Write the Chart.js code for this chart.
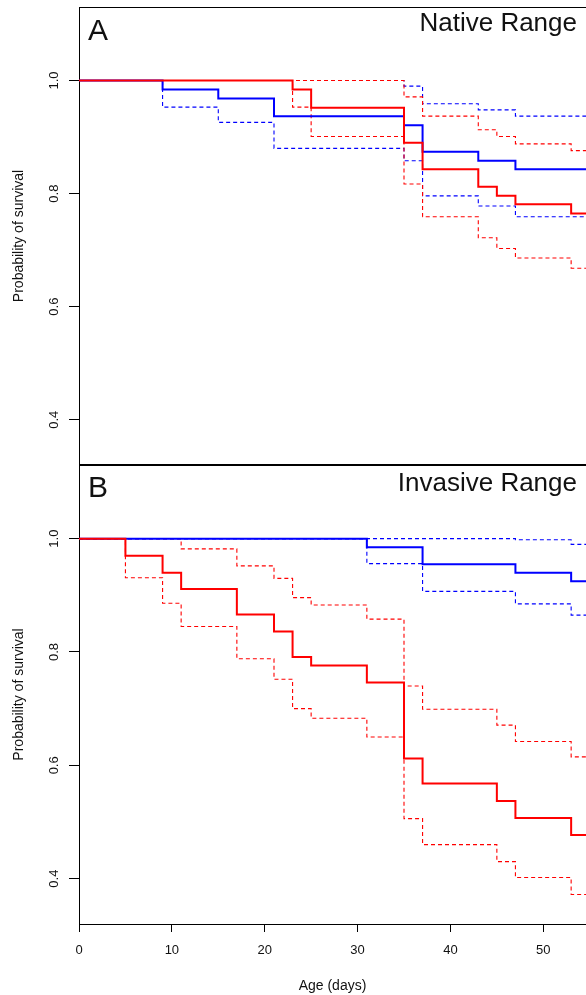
<!DOCTYPE html>
<html>
<head>
<meta charset="utf-8">
<script src="https://cdn.jsdelivr.net/npm/chart.js@4.4.1/dist/chart.umd.min.js"></script>
<style>
  body { margin: 0; background: #fff; }
  #wrap { position: relative; width: 586px; height: 995px; overflow: hidden; }
  canvas { position: absolute; left: 0; }
  #native { top: 0; }
  #invasive { top: 460px; }
</style>
</head>
<body>
<div id="wrap">
  <canvas id="native" width="586" height="470"></canvas>
  <canvas id="invasive" width="586" height="535"></canvas>
</div>
<script>
// axes
const xTicks = [0, 10, 20, 30, 40, 50]
const yTicks = [0.4, 0.6, 0.8, 1.0]
const xMin = 0
const xMax = 54.6
const yMin = 0.32
const yMax = 1.13
const lastDay = 56 // follow-up runs past the visible edge

// A: native range (Kaplan-Meier estimate + 95% CI)
const nativeBlueDays = [0, 9, 15, 21, 35, 37, 43, 47]
const nativeBlueSurv = [1, 0.984, 0.968, 0.937, 0.921, 0.874, 0.858, 0.843]
const nativeBlueUpper = [1, 1, 1, 1, 0.990, 0.959, 0.948, 0.937]
const nativeBlueLower = [1, 0.953, 0.926, 0.880, 0.858, 0.796, 0.778, 0.759]

const nativeRedDays = [0, 23, 25, 35, 37, 43, 45, 47, 53]
const nativeRedSurv = [1, 0.984, 0.952, 0.890, 0.843, 0.812, 0.796, 0.781, 0.765]
const nativeRedUpper = [1, 1, 1, 0.971, 0.937, 0.913, 0.901, 0.888, 0.876]
const nativeRedLower = [1, 0.953, 0.901, 0.817, 0.759, 0.722, 0.703, 0.686, 0.668]

// B: invasive range
const invasiveBlueDays = [0, 31, 37, 47, 53]
const invasiveBlueSurv = [1, 0.985, 0.955, 0.940, 0.925]
const invasiveBlueUpper = [1, 1, 1, 0.998, 0.990]
const invasiveBlueLower = [1, 0.956, 0.907, 0.885, 0.865]

const invasiveRedDays = [0, 5, 9, 11, 17, 21, 23, 25, 31, 35, 37, 45, 47, 53]
const invasiveRedSurv = [1, 0.970, 0.940, 0.911, 0.866, 0.836, 0.791, 0.776, 0.746, 0.612, 0.568, 0.537, 0.507, 0.477]
const invasiveRedUpper = [1, 1, 1, 0.982, 0.952, 0.930, 0.896, 0.883, 0.858, 0.740, 0.699, 0.671, 0.642, 0.615]
const invasiveRedLower = [1, 0.931, 0.886, 0.845, 0.788, 0.752, 0.700, 0.683, 0.650, 0.506, 0.460, 0.430, 0.402, 0.372]

const FONT = "'Liberation Sans', Arial, Helvetica, sans-serif"
const BLUE = "#0000ff"
const RED = "#ff0000"

function stepData(days, values) {
  const pts = days.map((d, i) => ({ x: d, y: values[i] }))
  pts.push({ x: lastDay, y: values[values.length - 1] })
  return pts
}

function series(days, values, color, dashed) {
  return {
    data: stepData(days, values),
    borderColor: color,
    borderWidth: dashed ? 1.1 : 2,
    borderDash: dashed ? [4, 3] : [],
    stepped: true,
    pointRadius: 0,
    fill: false,
  }
}

// box edges the axes don't draw, rotated y labels, panel letter and title
const panelDecor = {
  id: "panelDecor",
  afterDraw(chart, args, opts) {
    const { ctx, chartArea } = chart
    ctx.save()
    ctx.strokeStyle = "#000"
    ctx.lineWidth = 1
    ctx.beginPath()
    ctx.moveTo(chartArea.left, chartArea.top + 0.5)
    ctx.lineTo(chartArea.right, chartArea.top + 0.5)
    if (opts.bottomLine) {
      ctx.moveTo(chartArea.left, chartArea.bottom - 0.5)
      ctx.lineTo(chartArea.right, chartArea.bottom - 0.5)
    }
    ctx.stroke()

    ctx.fillStyle = "#111"
    ctx.textBaseline = "alphabetic"
    ctx.font = `30px ${FONT}`
    ctx.textAlign = "left"
    ctx.fillText(opts.letter, 88, opts.letterY)
    ctx.font = `26px ${FONT}`
    ctx.textAlign = "right"
    ctx.fillText(opts.title, 577, opts.titleY)

    // y tick labels, rotated like base R plots
    const y = chart.scales.y
    ctx.font = `13px ${FONT}`
    ctx.textAlign = "center"
    ctx.textBaseline = "middle"
    yTicks.forEach((v) => {
      ctx.save()
      ctx.translate(54, y.getPixelForValue(v))
      ctx.rotate(-Math.PI / 2)
      ctx.fillText(v.toFixed(1), 0, 0)
      ctx.restore()
    })
    ctx.restore()
  },
}

function buildChart(canvasId, datasets, cfg) {
  return new Chart(document.getElementById(canvasId), {
    type: "line",
    data: { datasets },
    options: {
      responsive: false,
      animation: false,
      layout: { padding: { top: cfg.padTop, bottom: cfg.padBottom, left: 0, right: 0 } },
      plugins: {
        legend: { display: false },
        tooltip: { enabled: false },
        panelDecor: cfg.decor,
      },
      scales: {
        x: {
          type: "linear",
          min: xMin,
          max: xMax,
          display: cfg.showX,
          afterBuildTicks: (scale) => {
            scale.ticks = xTicks.map((v) => ({ value: v }))
          },
          afterFit: (scale) => {
            scale.height = cfg.showX ? 71 : 0
          },
          border: { display: true, color: "#000", width: 1 },
          grid: { drawOnChartArea: false, drawTicks: true, tickLength: 8, color: "#000" },
          ticks: { color: "#111", padding: 11, font: { family: FONT, size: 13 } },
          title: {
            display: true,
            text: "Age (days)",
            color: "#111",
            font: { family: FONT, size: 14 },
            padding: { top: 0, bottom: 0 },
          },
        },
        y: {
          type: "linear",
          min: yMin,
          max: yMax,
          afterBuildTicks: (scale) => {
            scale.ticks = yTicks.map((v) => ({ value: v }))
          },
          afterFit: (scale) => {
            scale.width = 79
          },
          border: { display: true, color: "#000", width: 1 },
          grid: { drawOnChartArea: false, drawTicks: true, tickLength: 10, color: "#000" },
          ticks: { display: false },
          title: {
            display: true,
            text: "Probability of survival",
            color: "#111",
            font: { family: FONT, size: 14 },
            padding: { top: 10.5, bottom: 0 },
          },
        },
      },
    },
    plugins: [panelDecor],
  })
}

buildChart(
  "native",
  [
    series(nativeRedDays, nativeRedSurv, RED, false),
    series(nativeBlueDays, nativeBlueSurv, BLUE, false),
    series(nativeRedDays, nativeRedUpper, RED, true),
    series(nativeRedDays, nativeRedLower, RED, true),
    series(nativeBlueDays, nativeBlueUpper, BLUE, true),
    series(nativeBlueDays, nativeBlueLower, BLUE, true),
  ],
  {
    padTop: 7,
    padBottom: 5,
    showX: false,
    decor: { letter: "A", title: "Native Range", letterY: 40, titleY: 31, bottomLine: true },
  }
)

buildChart(
  "invasive",
  [
    series(invasiveRedDays, invasiveRedSurv, RED, false),
    series(invasiveBlueDays, invasiveBlueSurv, BLUE, false),
    series(invasiveRedDays, invasiveRedUpper, RED, true),
    series(invasiveRedDays, invasiveRedLower, RED, true),
    series(invasiveBlueDays, invasiveBlueUpper, BLUE, true),
    series(invasiveBlueDays, invasiveBlueLower, BLUE, true),
  ],
  {
    padTop: 5,
    padBottom: 0,
    showX: true,
    decor: { letter: "B", title: "Invasive Range", letterY: 37, titleY: 31, bottomLine: false },
  }
)
</script>
</body>
</html>
